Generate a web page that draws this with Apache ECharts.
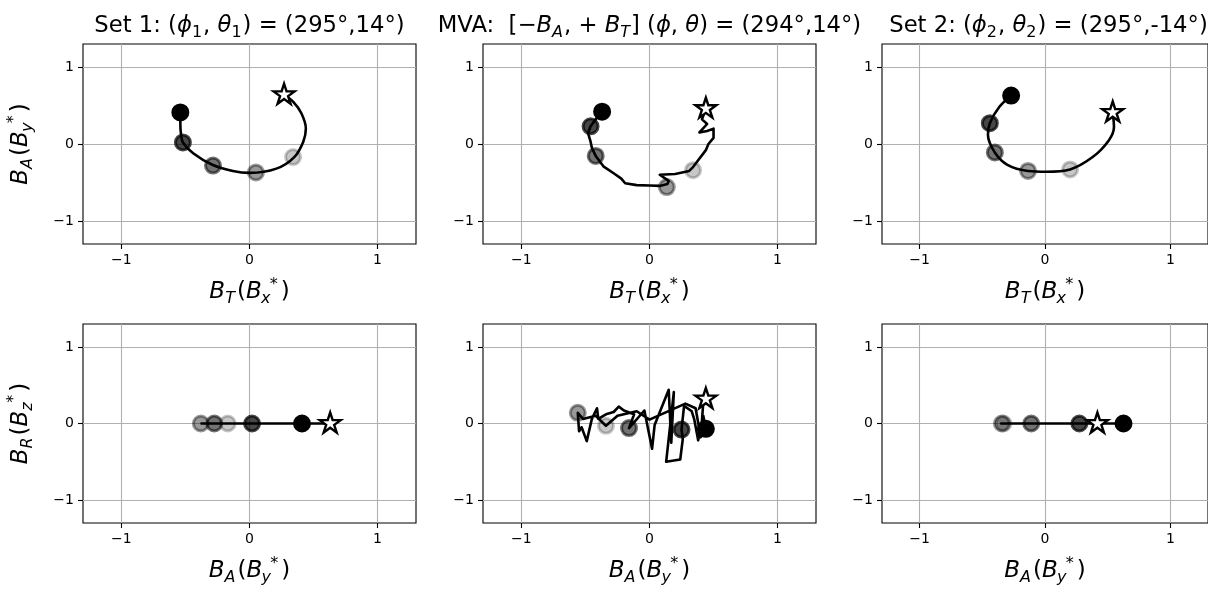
<!DOCTYPE html>
<html>
<head>
<meta charset="utf-8">
<script src="https://cdn.jsdelivr.net/npm/echarts@6/dist/echarts.min.js"></script>
<style>html,body{margin:0;padding:0;background:#fff}#c{width:1208px;height:590px}</style>
</head>
<body>
<div id="c"></div>
<script>
// ---------------- data ----------------
const tickValues = [-1, 0, 1];
const axisMin = -1.3;
const axisMax = 1.3;
const markerAlpha = [1, 0.72, 0.55, 0.4, 0.22];

// Set 1: top (B_T, B_A)
const set1TopPath = [[-0.54,0.41],[-0.54,0.27],[-0.535,0.13],[-0.52,0.02],[-0.44,-0.12],[-0.29,-0.27],[-0.13,-0.35],[0.0,-0.375],[0.21,-0.32],[0.35,-0.17],[0.42,0.03],[0.44,0.20],[0.405,0.40],[0.34,0.55],[0.27,0.64]];
const set1TopMarkers = [[-0.54,0.41],[-0.52,0.02],[-0.285,-0.28],[0.05,-0.37],[0.34,-0.17]];
const set1TopStar = [0.27,0.64];
// Set 1: bottom (B_A, B_R)
const set1BottomPath = [[0.41,0],[0.02,0],[-0.28,0],[-0.375,0],[-0.17,0],[0.63,0]];
const set1BottomMarkers = [[0.41,0],[0.02,0],[-0.275,0],[-0.38,0],[-0.17,0]];
const set1BottomStar = [0.63,0];

// MVA: top (B_T, B_A)
const mvaTopPath = [[-0.37,0.42],[-0.42,0.32],[-0.46,0.23],[-0.48,0.14],[-0.46,0.03],[-0.45,-0.05],[-0.42,-0.155],[-0.36,-0.29],[-0.28,-0.38],[-0.22,-0.45],[-0.19,-0.51],[-0.10,-0.535],[0.0,-0.54],[0.08,-0.545],[0.14,-0.52],[0.15,-0.48],[0.08,-0.40],[0.20,-0.39],[0.31,-0.35],[0.34,-0.30],[0.38,-0.21],[0.44,-0.08],[0.46,0.0],[0.50,0.08],[0.50,0.20],[0.45,0.17],[0.39,0.15],[0.45,0.26],[0.41,0.32],[0.44,0.46]];
const mvaTopMarkers = [[-0.37,0.42],[-0.46,0.23],[-0.42,-0.155],[0.135,-0.56],[0.34,-0.34]];
const mvaTopStar = [0.44,0.46];
// MVA: bottom (B_A, B_R)
const mvaBottomPath = [[0.44,-0.07],[0.42,0.10],[0.38,-0.22],[0.35,0.05],[0.33,0.16],[0.27,0.23],[0.25,-0.08],[0.26,-0.20],[0.24,-0.47],[0.13,-0.50],[0.19,0.41],[0.17,-0.25],[0.15,0.44],[0.04,-0.02],[0.02,-0.33],[-0.04,0.17],[-0.16,-0.06],[-0.12,0.12],[-0.20,0.17],[-0.24,0.22],[-0.28,0.15],[-0.34,0.12],[-0.40,0.06],[-0.41,0.20],[-0.45,0.06],[-0.49,-0.23],[-0.53,-0.05],[-0.55,-0.10],[-0.56,0.14],[-0.52,0.06],[-0.42,0.10],[-0.34,-0.03],[-0.25,0.10],[-0.10,0.16],[0.0,0.05],[0.28,0.26],[0.36,0.20],[0.40,-0.18],[0.42,0.28],[0.44,0.32]];
const mvaBottomMarkers = [[0.44,-0.07],[0.25,-0.08],[-0.16,-0.06],[-0.56,0.14],[-0.34,-0.03]];
const mvaBottomStar = [0.44,0.32];

// Set 2: top (B_T, B_A)
const set2TopPath = [[-0.27,0.63],[-0.365,0.48],[-0.44,0.27],[-0.455,0.12],[-0.40,-0.11],[-0.30,-0.27],[-0.135,-0.35],[0.01,-0.36],[0.20,-0.33],[0.38,-0.17],[0.51,0.05],[0.55,0.22],[0.54,0.41]];
const set2TopMarkers = [[-0.27,0.63],[-0.44,0.27],[-0.40,-0.11],[-0.135,-0.35],[0.20,-0.33]];
const set2TopStar = [0.54,0.41];
// Set 2: bottom (B_A, B_R)
const set2BottomPath = [[0.626,0],[0.274,0],[-0.11,0],[-0.35,0],[-0.33,0],[0.418,0]];
const set2BottomMarkers = [[0.626,0],[0.274,0],[-0.11,0],[-0.344,0],[-0.33,0]];
const set2BottomStar = [0.418,0];

// titles / labels
const titleTexts = [
  '{n|Set 1: (}{i|ϕ}{sn|1}{n|, }{i|θ}{sn|1}{n|) = (295°,14°)}',
  '{n|MVA:  [−}{i|B}{s|A}{n|, + }{i|B}{s|T}{n|] (}{i|ϕ}{n|, }{i|θ}{n|) = (294°,14°)}',
  '{n|Set 2: (}{i|ϕ}{sn|2}{n|, }{i|θ}{sn|2}{n|) = (295°,-14°)}'
];
const xNameTop = '{i|B}{s|T}{n|(}{i|B}{sw|x}{p|*}{n|)}';
const xNameBottom = '{i|B}{s|A}{n|(}{i|B}{sw|y}{p|*}{n|)}';
const yNameTop = '{i|B}{s|A}{n|(}{i|B}{sw|y}{p|*}{n|)}';
const yNameBottom = '{i|B}{s|R}{n|(}{i|B}{sw|z}{p|*}{n|)}';

// ---------------- layout / style ----------------
const FONT = 'DejaVu Sans';
const LH = 30;
const richTitle = {
  n: {fontFamily: FONT, fontSize: 22.7, lineHeight: LH, color: '#000'},
  i: {fontFamily: FONT, fontSize: 22.7, fontStyle: 'italic', lineHeight: LH, color: '#000'},
  s: {fontFamily: FONT, fontSize: 16, fontStyle: 'italic', lineHeight: 19, verticalAlign: 'bottom', padding: [0, 1, 0, 0], color: '#000'},
  sn: {fontFamily: FONT, fontSize: 16, lineHeight: 19, verticalAlign: 'bottom', padding: [0, 1, 0, 0], color: '#000'}
};
const richAxis = {
  n: {fontFamily: FONT, fontSize: 23, lineHeight: LH, color: '#000'},
  i: {fontFamily: FONT, fontSize: 23, fontStyle: 'italic', lineHeight: LH, color: '#000'},
  s: {fontFamily: FONT, fontSize: 16, fontStyle: 'italic', lineHeight: 19, verticalAlign: 'bottom', padding: [0, 2, 0, 0], color: '#000'},
  sw: {fontFamily: FONT, fontSize: 16, fontStyle: 'italic', lineHeight: 19, verticalAlign: 'bottom', width: 8, color: '#000'},
  p: {fontFamily: FONT, fontSize: 16, lineHeight: 6, verticalAlign: 'top', padding: [0, 3, 0, 0], color: '#000'}
};
const colLeft = [83, 483, 882];
const colWidth = 333;
const rowTop = [44, 324];
const rowHeight = [200, 199];
const starPath = 'path://M50 0 L61.23 34.55 L97.55 34.55 L68.17 55.9 L79.39 90.45 L50 69.1 L20.61 90.45 L31.83 55.9 L2.45 34.55 L38.77 34.55 Z';

const panels = [
  {row:0,col:0,path:set1TopPath,markers:set1TopMarkers,star:set1TopStar,smooth:0.35},
  {row:0,col:1,path:mvaTopPath,markers:mvaTopMarkers,star:mvaTopStar,smooth:false},
  {row:0,col:2,path:set2TopPath,markers:set2TopMarkers,star:set2TopStar,smooth:0.35},
  {row:1,col:0,path:set1BottomPath,markers:set1BottomMarkers,star:set1BottomStar,smooth:false},
  {row:1,col:1,path:mvaBottomPath,markers:mvaBottomMarkers,star:mvaBottomStar,smooth:false},
  {row:1,col:2,path:set2BottomPath,markers:set2BottomMarkers,star:set2BottomStar,smooth:false}
];

const fmt = v => (v < 0 ? '−' + Math.abs(v) : String(v));

const grids = [], xAxes = [], yAxes = [], series = [];
panels.forEach((p, k) => {
  grids.push({left: colLeft[p.col], top: rowTop[p.row], width: colWidth, height: rowHeight[p.row],
    show: true, borderColor: '#000', borderWidth: 1.1, backgroundColor: 'transparent'});
  const common = {
    type: 'value', gridIndex: k, min: axisMin, max: axisMax,
    axisLine: {show: false, onZero: false},
    axisTick: {show: true, inside: false, length: 5, customValues: tickValues, lineStyle: {color: '#000', width: 1.1}},
    axisLabel: {show: true, customValues: tickValues, formatter: fmt, fontFamily: FONT, fontSize: 14, color: '#000', margin: 9},
    splitLine: {show: true, lineStyle: {color: '#b0b0b0', width: 1.1}}
  };
  xAxes.push(Object.assign({}, common, {
    position: 'bottom',
    name: p.row === 0 ? xNameTop : xNameBottom,
    nameLocation: 'middle', nameGap: 33,
    nameTextStyle: {rich: richAxis}
  }));
  const y = Object.assign({}, common, {position: 'left'});
  if (p.col === 0) {
    y.name = p.row === 0 ? yNameTop : yNameBottom;
    y.nameLocation = 'middle';
    y.nameRotate = 90;
    y.nameGap = 47;
    y.nameTextStyle = {rich: richAxis};
  }
  yAxes.push(y);

  series.push({
    type: 'scatter', xAxisIndex: k, yAxisIndex: k, z: 2, symbol: 'circle', symbolSize: 15,
    data: p.markers.map((m, i) => ({
      value: m,
      itemStyle: {opacity: 1, color: 'rgba(0,0,0,' + markerAlpha[i] + ')', borderColor: 'rgba(0,0,0,' + markerAlpha[i] + ')', borderWidth: 3}
    })),
    emphasis: {disabled: true}
  });
  series.push({
    type: 'line', xAxisIndex: k, yAxisIndex: k, z: 3, data: p.path, showSymbol: false, symbol: 'none',
    smooth: p.smooth, lineStyle: {color: '#000', width: 2.6, join: 'round', opacity: 1}, emphasis: {disabled: true}
  });
  series.push({
    type: 'scatter', xAxisIndex: k, yAxisIndex: k, z: 4, symbol: starPath, symbolSize: [21, 20], symbolOffset: [0, -1],
    data: [p.star], itemStyle: {opacity: 1, color: '#fff', borderColor: '#000', borderWidth: 2.4}, emphasis: {disabled: true}
  });
});

const graphics = titleTexts.map((t, c) => ({
  type: 'text', x: colLeft[c] + colWidth / 2, y: 26,
  style: {text: t, rich: richTitle, align: 'center', verticalAlign: 'middle'}
}));

const chart = echarts.init(document.getElementById('c'), null, {renderer: 'canvas'});
chart.setOption({
  animation: false,
  backgroundColor: '#fff',
  grid: grids, xAxis: xAxes, yAxis: yAxes, series: series,
  graphic: graphics
});
</script>
</body>
</html>
